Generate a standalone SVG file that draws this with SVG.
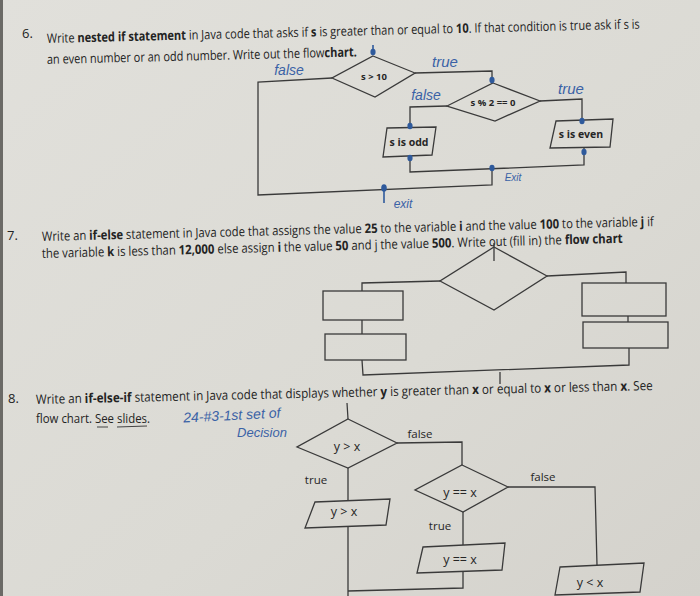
<svg xmlns="http://www.w3.org/2000/svg" width="700" height="596" viewBox="0 0 700 596">
<defs>
<linearGradient id="bg" x1="0" y1="0" x2="1" y2="1">
<stop offset="0" stop-color="#e1e0db"/>
<stop offset="0.6" stop-color="#dbdad4"/>
<stop offset="1" stop-color="#d4d2cc"/>
</linearGradient>
<style>
.q{font-family:"Open Sans","Liberation Sans",sans-serif;font-size:13px;fill:#232323}
.b{font-weight:bold}
.ln{fill:none;stroke:#3a3a3a;stroke-width:1.3}
.bx{fill:none;stroke:#3a3a3a;stroke-width:1.3}
.lb{font-family:"Open Sans","Liberation Sans",sans-serif;font-size:11.5px;fill:#262626;text-anchor:middle}
.sm{font-family:"Open Sans","Liberation Sans",sans-serif;font-size:9.5px;font-weight:bold;fill:#262626;text-anchor:middle}
.hw{font-family:"Liberation Sans",sans-serif;font-style:italic;fill:#3a62a6;text-anchor:middle}
.ink{fill:#2f5a9c;stroke:#2f5a9c;stroke-width:1.6}
</style>
</defs>
<rect width="700" height="596" fill="url(#bg)"/>
<rect x="0" y="0" width="3" height="596" fill="#6b6a66"/>

<g id="q6-text">
<text class="q" x="22" y="38">6.</text>
<text class="q" x="47" y="43" textLength="593" lengthAdjust="spacingAndGlyphs" transform="rotate(-1.4 47 43)">Write <tspan class="b">nested if statement</tspan> in Java code that asks if <tspan class="b">s</tspan> is greater than or equal to <tspan class="b">10</tspan>.  If that condition is true ask if s is</text>
<text class="q" x="47" y="64" textLength="310" lengthAdjust="spacingAndGlyphs" transform="rotate(-1.4 47 64)">an even number or an odd number.  Write out the flow<tspan class="b">chart.</tspan></text>
</g>

<g id="q6-connectors">
<polyline class="ln" points="332,78 258,82 258,195 492,185 492,167"/>
<polyline class="ln" points="415,73 492,71 492,83"/>
<polyline class="ln" points="447,106 410,107 410,127"/>
<polyline class="ln" points="540,101 582,99 582,120"/>
<polyline class="ln" points="410,157 410,172 584,165 584,148"/>
</g>
<g id="q6-d1">
<polygon class="bx" points="373,56 415,73 375,97 332,78"/>
<text class="sm" x="374" y="80">s &gt; 10</text>
</g>
<g id="q6-d2">
<polygon class="bx" points="493,83 540,101 495,121 447,106"/>
<text class="sm" x="493" y="106">s % 2 == 0</text>
</g>
<g id="q6-odd">
<polygon class="bx" points="387,128 436,127 432,155 383,157"/>
<text class="sm" x="409" y="146" style="font-size:10.5px">s is odd</text>
</g>
<g id="q6-even">
<polygon class="bx" points="556,121 613,119 610,147 550,148"/>
<text class="sm" x="581" y="138" style="font-size:10.5px">s is even</text>
</g>
<g id="q6-ink">
<text class="hw" x="289" y="75" font-size="14">false</text>
<text class="hw" x="445" y="67" font-size="15">true</text>
<text class="hw" x="426" y="100" font-size="14">false</text>
<text class="hw" x="571" y="94" font-size="15">true</text>
<text class="hw" x="513" y="181" font-size="10">Exit</text>
<text class="hw" x="403" y="208" font-size="12">exit</text>
<line class="ink" x1="373" y1="45" x2="373" y2="55"/><ellipse class="ink" cx="373" cy="52" rx="1.8" ry="2.5"/>
<ellipse class="ink" cx="492" cy="80" rx="1.8" ry="2.5"/>
<ellipse class="ink" cx="410" cy="126" rx="1.8" ry="2.5"/>
<ellipse class="ink" cx="410" cy="158" rx="1.8" ry="2.5"/>
<ellipse class="ink" cx="582" cy="121" rx="1.8" ry="2.5"/>
<ellipse class="ink" cx="584" cy="152" rx="1.8" ry="2.5"/>
<ellipse class="ink" cx="492" cy="168" rx="1.8" ry="2.5"/>
<line class="ink" x1="384" y1="185" x2="384" y2="203"/><ellipse class="ink" cx="384" cy="188" rx="2" ry="3"/>
</g>

<g id="q7-text">
<text class="q" x="7" y="240">7.</text>
<text class="q" x="42" y="241" textLength="612" lengthAdjust="spacingAndGlyphs" transform="rotate(-1.4 42 241)">Write an <tspan class="b">if-else</tspan> statement in Java code that assigns the value <tspan class="b">25</tspan> to the variable <tspan class="b">i</tspan> and the value <tspan class="b">100</tspan> to the variable <tspan class="b">j</tspan> if</text>
<text class="q" x="42" y="258" textLength="581" lengthAdjust="spacingAndGlyphs" transform="rotate(-1.5 42 258)">the variable <tspan class="b">k</tspan> is less than <tspan class="b">12,000</tspan> else assign <tspan class="b">i</tspan> the value <tspan class="b">50</tspan> and j the value <tspan class="b">500</tspan>.  Write out (fill in) the <tspan class="b">flow chart</tspan></text>
</g>
<g id="q7-connectors">
<line class="ln" x1="494" y1="243" x2="494" y2="261"/>
<polyline class="ln" points="440,281 362,283 362,291"/>
<line class="ln" x1="362" y1="320" x2="362" y2="334"/>
<polyline class="ln" points="362,360 363,375 629,365 629,348"/>
<polyline class="ln" points="547,276 626,272 626,283"/>
<line class="ln" x1="628" y1="316" x2="628" y2="322"/>
<line class="ln" x1="500" y1="372" x2="500" y2="384"/>
</g>
<g id="q7-diamond"><polygon class="bx" points="494,247 547,276 494,310 440,281"/></g>
<g id="q7-box-l1"><rect class="bx" x="323" y="291" width="80" height="29"/></g>
<g id="q7-box-l2"><rect class="bx" x="325" y="334" width="81" height="26"/></g>
<g id="q7-box-r1"><rect class="bx" x="582" y="283" width="84" height="33"/></g>
<g id="q7-box-r2"><rect class="bx" x="583" y="322" width="85" height="26"/></g>

<g id="q8-text">
<text class="q" x="8" y="403">8.</text>
<text class="q" x="36" y="404" textLength="617" lengthAdjust="spacingAndGlyphs" transform="rotate(-1.3 36 404)">Write an <tspan class="b">if-else-if</tspan> statement in Java code that displays whether  <tspan class="b">y</tspan> is greater than <tspan class="b">x</tspan> or equal to <tspan class="b">x</tspan> or less than <tspan class="b">x</tspan>.   See</text>
<text class="q" x="36" y="423" textLength="114" lengthAdjust="spacingAndGlyphs">flow chart.  See slides.</text>
<path d="M97,427 L108,427 M117,427 L147,426" stroke="#444" stroke-width="1.2" fill="none"/>
<text class="hw" x="232" y="420" font-size="14" transform="rotate(-3 232 420)">24-#3-1st set of</text>
<text class="hw" x="262" y="437" font-size="13">Decision</text>
</g>
<g id="q8-connectors">
<line class="ln" x1="347" y1="403" x2="348" y2="419"/>
<polyline class="ln" points="397,443 462,442 462,465"/>
<line class="ln" x1="348" y1="468" x2="348" y2="500"/>
<line class="ln" x1="348" y1="527" x2="348" y2="596"/>
<line class="ln" x1="463" y1="512" x2="463" y2="545"/>
<polyline class="ln" points="463,572 463,588 348,591"/>
<polyline class="ln" points="508,487 595,487 597,565"/>
</g>
<g id="q8-d1">
<polygon class="bx" points="348,419 397,443 348,468 297,447"/>
<text class="lb" x="347" y="451" style="font-size:12.5px">y &gt; x</text>
</g>
<g id="q8-d2">
<polygon class="bx" points="462,465 508,487 463,512 415,490"/>
<text class="lb" x="460" y="497" style="font-size:12.5px">y == x</text>
</g>
<g id="q8-p1">
<polygon class="bx" points="315,502 390,499 386,525 305,528"/>
<text class="lb" x="344" y="516" style="font-size:12.5px">y &gt; x</text>
</g>
<g id="q8-p2">
<polygon class="bx" points="423,547 505,543 502,570 417,573"/>
<text class="lb" x="460" y="564" style="font-size:12.5px">y == x</text>
</g>
<g id="q8-p3">
<polygon class="bx" points="560,567 644,563 640,592 555,595"/>
<text class="lb" x="590" y="587" style="font-size:12.5px">y &lt; x</text>
</g>
<g id="q8-labels">
<text class="lb" x="420" y="438">false</text>
<text class="lb" x="316" y="484">true</text>
<text class="lb" x="440" y="530">true</text>
<text class="lb" x="543" y="481">false</text>
</g>
</svg>
